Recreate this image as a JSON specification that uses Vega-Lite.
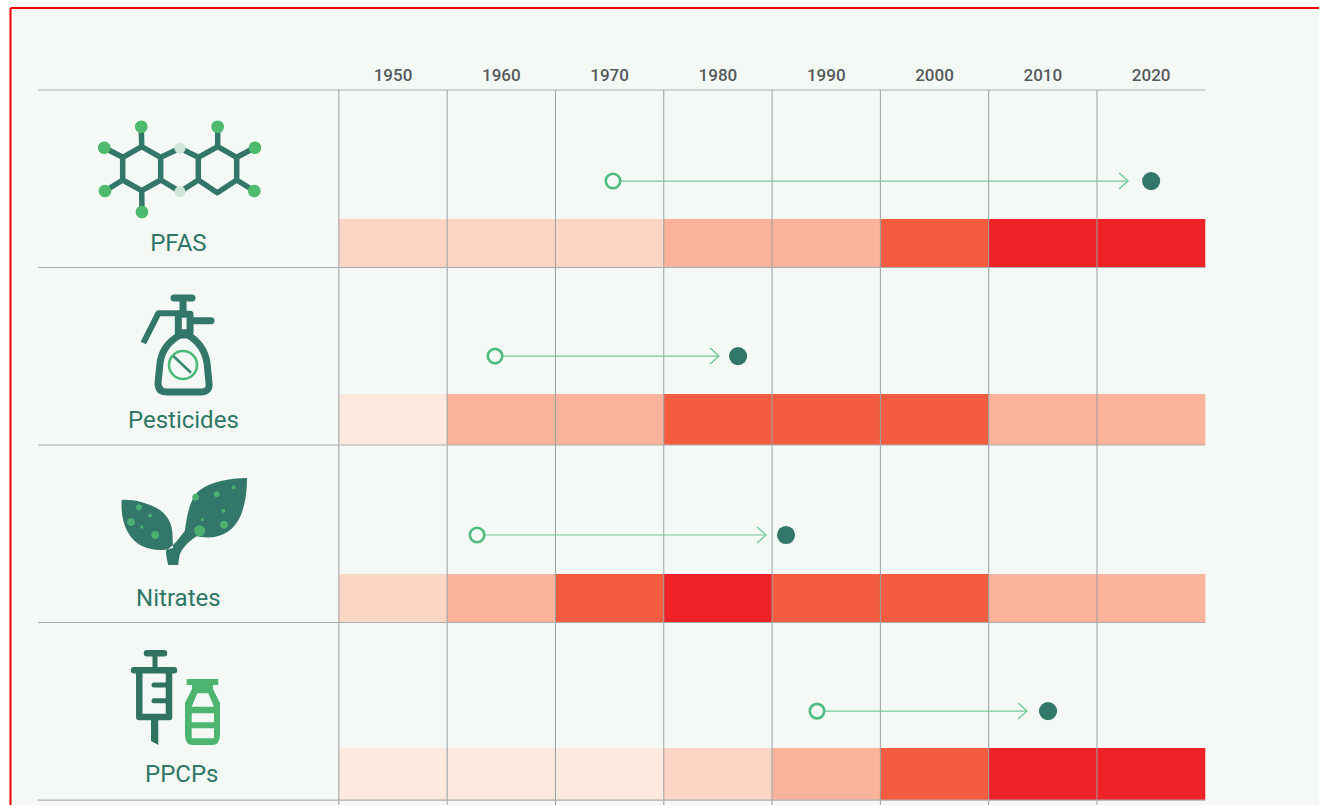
{
"$schema":"https://vega.github.io/schema/vega-lite/v6.json",
"width":1319,"height":805,"padding":0,"autosize":{"type":"none"},
"background":"#ffffff",
"config":{"view":{"stroke":null}},
"encoding":{
"x":{"field":"year","type":"quantitative","axis":null,"scale":{"domain":[1913.71,2035.5],"nice":false,"zero":false}},
"y":{"field":"row","type":"quantitative","axis":null,"scale":{"domain":[4.028,-0.507],"nice":false,"zero":false}}
},
"layer":[
{"data":{"values":[{"year":1914.68,"year2":2035.5,"row":-0.462,"row2":4.028}]},
 "mark":{"type":"rect","fill":"#f5f9f6"},
 "encoding":{"x2":{"field":"year2"},"y2":{"field":"row2"}}},
{"data":{"values":[{"year":1914.68,"year2":2035.5,"row":-0.462}]},
 "mark":{"type":"rule","color":"#f00000","strokeWidth":2},
 "encoding":{"x2":{"field":"year2"}}},
{"data":{"values":[{"year":1914.68,"row":-0.462,"row2":4.028}]},
 "mark":{"type":"rule","color":"#f00000","strokeWidth":2},
 "encoding":{"y2":{"field":"row2"}}},
{"data":{"values":[
{"name":"PFAS","decade":1950,"year":1945,"year2":1955,"row":0.727,"row2":1,"level":2},
{"name":"PFAS","decade":1960,"year":1955,"year2":1965,"row":0.727,"row2":1,"level":2},
{"name":"PFAS","decade":1970,"year":1965,"year2":1975,"row":0.727,"row2":1,"level":2},
{"name":"PFAS","decade":1980,"year":1975,"year2":1985,"row":0.727,"row2":1,"level":3},
{"name":"PFAS","decade":1990,"year":1985,"year2":1995,"row":0.727,"row2":1,"level":3},
{"name":"PFAS","decade":2000,"year":1995,"year2":2005,"row":0.727,"row2":1,"level":4},
{"name":"PFAS","decade":2010,"year":2005,"year2":2015,"row":0.727,"row2":1,"level":5},
{"name":"PFAS","decade":2020,"year":2015,"year2":2025,"row":0.727,"row2":1,"level":5},
{"name":"Pesticides","decade":1950,"year":1945,"year2":1955,"row":1.713,"row2":2,"level":1},
{"name":"Pesticides","decade":1960,"year":1955,"year2":1965,"row":1.713,"row2":2,"level":3},
{"name":"Pesticides","decade":1970,"year":1965,"year2":1975,"row":1.713,"row2":2,"level":3},
{"name":"Pesticides","decade":1980,"year":1975,"year2":1985,"row":1.713,"row2":2,"level":4},
{"name":"Pesticides","decade":1990,"year":1985,"year2":1995,"row":1.713,"row2":2,"level":4},
{"name":"Pesticides","decade":2000,"year":1995,"year2":2005,"row":1.713,"row2":2,"level":4},
{"name":"Pesticides","decade":2010,"year":2005,"year2":2015,"row":1.713,"row2":2,"level":3},
{"name":"Pesticides","decade":2020,"year":2015,"year2":2025,"row":1.713,"row2":2,"level":3},
{"name":"Nitrates","decade":1950,"year":1945,"year2":1955,"row":2.727,"row2":3,"level":2},
{"name":"Nitrates","decade":1960,"year":1955,"year2":1965,"row":2.727,"row2":3,"level":3},
{"name":"Nitrates","decade":1970,"year":1965,"year2":1975,"row":2.727,"row2":3,"level":4},
{"name":"Nitrates","decade":1980,"year":1975,"year2":1985,"row":2.727,"row2":3,"level":5},
{"name":"Nitrates","decade":1990,"year":1985,"year2":1995,"row":2.727,"row2":3,"level":4},
{"name":"Nitrates","decade":2000,"year":1995,"year2":2005,"row":2.727,"row2":3,"level":4},
{"name":"Nitrates","decade":2010,"year":2005,"year2":2015,"row":2.727,"row2":3,"level":3},
{"name":"Nitrates","decade":2020,"year":2015,"year2":2025,"row":2.727,"row2":3,"level":3},
{"name":"PPCPs","decade":1950,"year":1945,"year2":1955,"row":3.707,"row2":4,"level":1},
{"name":"PPCPs","decade":1960,"year":1955,"year2":1965,"row":3.707,"row2":4,"level":1},
{"name":"PPCPs","decade":1970,"year":1965,"year2":1975,"row":3.707,"row2":4,"level":1},
{"name":"PPCPs","decade":1980,"year":1975,"year2":1985,"row":3.707,"row2":4,"level":2},
{"name":"PPCPs","decade":1990,"year":1985,"year2":1995,"row":3.707,"row2":4,"level":3},
{"name":"PPCPs","decade":2000,"year":1995,"year2":2005,"row":3.707,"row2":4,"level":4},
{"name":"PPCPs","decade":2010,"year":2005,"year2":2015,"row":3.707,"row2":4,"level":5},
{"name":"PPCPs","decade":2020,"year":2015,"year2":2025,"row":3.707,"row2":4,"level":5}
]},
 "mark":{"type":"rect"},
 "encoding":{"x2":{"field":"year2"},"y2":{"field":"row2"},
 "color":{"field":"level","type":"ordinal","legend":null,"scale":{"domain":[1,2,3,4,5],"range":["#fde9dd","#fdd5c4","#fbb49b","#f45c40","#ef2227"]}}}},
{"data":{"values":[{"year":1945,"row":0,"row2":4.028},{"year":1955,"row":0,"row2":4.028},{"year":1965,"row":0,"row2":4.028},{"year":1975,"row":0,"row2":4.028},{"year":1985,"row":0,"row2":4.028},{"year":1995,"row":0,"row2":4.028},{"year":2005,"row":0,"row2":4.028},{"year":2015,"row":0,"row2":4.028}]},
 "mark":{"type":"rule","color":"#9a9fa2","strokeWidth":1},
 "encoding":{"y2":{"field":"row2"}}},
{"data":{"values":[{"year":1917.22,"year2":2025,"row":0},{"year":1917.22,"year2":2025,"row":1},{"year":1917.22,"year2":2025,"row":2},{"year":1917.22,"year2":2025,"row":3},{"year":1917.22,"year2":2025,"row":4}]},
 "mark":{"type":"rule","color":"#a9adb0","strokeWidth":1.2},
 "encoding":{"x2":{"field":"year2"}}},
{"data":{"values":[{"label":"1950","year":1950,"row":-0.05},{"label":"1960","year":1960,"row":-0.05},{"label":"1970","year":1970,"row":-0.05},{"label":"1980","year":1980,"row":-0.05},{"label":"1990","year":1990,"row":-0.05},{"label":"2000","year":2000,"row":-0.05},{"label":"2010","year":2010,"row":-0.05},{"label":"2020","year":2020,"row":-0.05}]},
 "mark":{"type":"text","font":"Roboto","fontSize":17,"fontWeight":500,"color":"#555a5c","align":"center","baseline":"alphabetic"},
 "encoding":{"text":{"field":"label"}}},
{"data":{"values":[{"name":"PFAS","year":1970.31,"year2":2017.87,"row":0.513},{"name":"Pesticides","year":1959.42,"year2":1980.1,"row":1.499},{"name":"Nitrates","year":1957.76,"year2":1984.44,"row":2.507},{"name":"PPCPs","year":1989.15,"year2":2008.54,"row":3.499}]},
 "mark":{"type":"rule","color":"#6fcb98","strokeWidth":1.2},
 "encoding":{"x2":{"field":"year2"}}},
{"data":{"values":[{"name":"PFAS","year":2017.87,"row":0.513},{"name":"Pesticides","year":1980.1,"row":1.499},{"name":"Nitrates","year":1984.44,"row":2.507},{"name":"PPCPs","year":2008.54,"row":3.499}]},
 "mark":{"type":"point","shape":"M -9 -8 L 0 0 L -9 8","size":4,"filled":false,"opacity":1,"stroke":"#6fcb98","strokeWidth":1.3}},
{"data":{"values":[{"name":"PFAS","year":1970.31,"row":0.513},{"name":"Pesticides","year":1959.42,"row":1.499},{"name":"Nitrates","year":1957.76,"row":2.507},{"name":"PPCPs","year":1989.15,"row":3.499}]},
 "mark":{"type":"point","shape":"circle","size":210,"filled":true,"opacity":1,"fill":"#f5f9f6","stroke":"#4fbb7f","strokeWidth":2.6}},
{"data":{"values":[{"name":"PFAS","year":2020,"row":0.513},{"name":"Pesticides","year":1981.86,"row":1.499},{"name":"Nitrates","year":1986.29,"row":2.507},{"name":"PPCPs","year":2010.48,"row":3.499}]},
 "mark":{"type":"point","shape":"circle","size":330,"filled":true,"opacity":1,"color":"#33776a"}},
{"data":{"values":[{"label":"PFAS","year":1930.18,"row":0.907},{"label":"Pesticides","year":1930.64,"row":1.906},{"label":"Nitrates","year":1930.18,"row":2.905},{"label":"PPCPs","year":1930.49,"row":3.9}]},
 "mark":{"type":"text","font":"Roboto","fontSize":24,"color":"#2f7766","align":"center","baseline":"alphabetic"},
 "encoding":{"text":{"field":"label"}}},

{"data":{"values":[{"icon":"PFAS","year":1930.33,"row":0.4507}]},
 "mark":{"type":"point","size":4,"filled":false,"opacity":1,"stroke":"#33776a","strokeWidth":5.5,"strokeJoin":"round",
 "shape":"M -38.3 -23.3 L -19.3 -12.7 L -19.3 10 L -38.3 20.7 L -57.3 10 L -57.3 -12.7 Z M 37.7 -23.3 L 56.7 -12.7 L 56.7 10 L 37.3 22.7 L 18.3 10 L 18.3 -12.7 Z M -19.3 -12.7 L 0 -21.7 L 18.3 -12.7 M -19.3 10 L 0 21.7 L 18.3 10 M -38.7 -43.3 L -38.3 -23.3 M -75.7 -22.3 L -57.3 -12.7 M -75 21 L -57.3 10 M -38 42 L -38.3 20.7 M 37.7 -43.3 L 37.7 -23.3 M 75 -22.3 L 56.7 -12.7 M 74.3 21 L 56.7 10"}},
{"data":{"values":[{"icon":"PFAS","year":1930.33,"row":0.4507}]},
 "mark":{"type":"point","size":4,"filled":true,"opacity":1,"fill":"#4dba6e",
 "shape":"M -45 -43.3 a 6.3 6.3 0 1 0 12.6 0 a 6.3 6.3 0 1 0 -12.6 0 Z M -82 -22.3 a 6.3 6.3 0 1 0 12.6 0 a 6.3 6.3 0 1 0 -12.6 0 Z M -81.3 21 a 6.3 6.3 0 1 0 12.6 0 a 6.3 6.3 0 1 0 -12.6 0 Z M -44.3 42 a 6.3 6.3 0 1 0 12.6 0 a 6.3 6.3 0 1 0 -12.6 0 Z M 31.4 -43.3 a 6.3 6.3 0 1 0 12.6 0 a 6.3 6.3 0 1 0 -12.6 0 Z M 68.7 -22.3 a 6.3 6.3 0 1 0 12.6 0 a 6.3 6.3 0 1 0 -12.6 0 Z M 68 21 a 6.3 6.3 0 1 0 12.6 0 a 6.3 6.3 0 1 0 -12.6 0 Z"}},
{"data":{"values":[{"icon":"PFAS","year":1930.33,"row":0.4507}]},
 "mark":{"type":"point","size":4,"filled":true,"opacity":1,"fill":"#cfe6d8",
 "shape":"M -5.5 -21.7 a 5.5 5.5 0 1 0 11 0 a 5.5 5.5 0 1 0 -11 0 Z M -5.5 21.7 a 5.5 5.5 0 1 0 11 0 a 5.5 5.5 0 1 0 -11 0 Z"}},

{"data":{"values":[{"icon":"Pesticides","year":1930.61,"row":1.4366}]},
 "mark":{"type":"point","size":4,"filled":false,"opacity":1,"stroke":"#33776a","strokeWidth":7,"strokeCap":"round","strokeJoin":"round",
 "shape":"M -9 -47 L 9 -47 M 0 -47 L 0 -33 M -4.7 -30.7 L 7 -30.7 L 7 -12.3 L -4.7 -12.3 Z M 10 -24.3 L 28 -24.3 M -3 -10 C -12 -5 -21 3 -23 18 L -25 38 Q -25 47 -16 47 L 18 47 Q 27 47 26 38 L 24 18 C 22 5 15 -4 5 -10 Z"}},
{"data":{"values":[{"icon":"Pesticides","year":1930.61,"row":1.4366}]},
 "mark":{"type":"point","size":4,"filled":false,"opacity":1,"stroke":"#33776a","strokeWidth":6,"strokeJoin":"round",
 "shape":"M -3 -31.7 L -24.7 -31.7 L -39.7 -2"}},
{"data":{"values":[{"icon":"Pesticides","year":1930.61,"row":1.4366}]},
 "mark":{"type":"point","size":4,"filled":false,"opacity":1,"stroke":"#4dba7a","strokeWidth":2.6,
 "shape":"M -14 20 a 14 14 0 1 0 28 0 a 14 14 0 1 0 -28 0 Z"}},
{"data":{"values":[{"icon":"Pesticides","year":1930.61,"row":1.4366}]},
 "mark":{"type":"point","size":4,"filled":false,"opacity":1,"stroke":"#3a8a72","strokeWidth":2.6,
 "shape":"M -9.7 11 L 8 27.7"}},

{"data":{"values":[{"icon":"Nitrates","year":1930.33,"row":2.4225}]},
 "mark":{"type":"point","size":4,"filled":true,"opacity":1,"fill":"#33776a",
 "shape":"M -58.3 -20 C -50 -21 -32 -18 -20 -10 C -12 -4 -8 4 -7.5 14 L -7 28 C -15 31 -28 31 -38 26 C -50 20 -60 5 -58.3 -20 Z M 67 -42 C 50 -42 30 -38 20 -30 C 10 -22 7 -5 5 10 C 8 15 20 18 33 17.3 C 48 15 58 5 62 -8 C 66 -20 67 -30 67 -42 Z M 6 9 C 2 15 -3 21 -7 25 C -10 28 -13 29 -14 31 C -14 36 -12.5 42 -11.7 45 L -1.7 45 C -1 39 -1 35 2 30 C 6 24 11 20 17 16 Z"}},
{"data":{"values":[{"icon":"Nitrates","year":1930.33,"row":2.4225}]},
 "mark":{"type":"point","size":4,"filled":true,"opacity":1,"fill":"#4bb070",
 "shape":"M -44 -12.7 a 3 3 0 1 0 6 0 a 3 3 0 1 0 -6 0 Z M -53 2 a 4 4 0 1 0 8 0 a 4 4 0 1 0 -8 0 Z M -32 -4.3 a 2 2 0 1 0 4 0 a 2 2 0 1 0 -4 0 Z M -40 7 a 1.7 1.7 0 1 0 3.4 0 a 1.7 1.7 0 1 0 -3.4 0 Z M -28.7 15 a 4 4 0 1 0 8 0 a 4 4 0 1 0 -8 0 Z M 12.2 -22.7 a 3.5 3.5 0 1 0 7 0 a 3.5 3.5 0 1 0 -7 0 Z M 33.7 -25.7 a 3 3 0 1 0 6 0 a 3 3 0 1 0 -6 0 Z M 51.7 -32.7 a 2 2 0 1 0 4 0 a 2 2 0 1 0 -4 0 Z M 41.3 -9.3 a 2 2 0 1 0 4 0 a 2 2 0 1 0 -4 0 Z M 20.7 -0.3 a 1.6 1.6 0 1 0 3.2 0 a 1.6 1.6 0 1 0 -3.2 0 Z M 40 4.7 a 4 4 0 1 0 8 0 a 4 4 0 1 0 -8 0 Z M 14.2 10.7 a 5.5 5.5 0 1 0 11 0 a 5.5 5.5 0 1 0 -11 0 Z"}},

{"data":{"values":[{"icon":"PPCPs","year":1930.33,"row":3.4085}]},
 "mark":{"type":"point","size":4,"filled":false,"opacity":1,"stroke":"#2f7360","strokeWidth":6.5,"strokeCap":"round","strokeJoin":"round",
 "shape":"M -33 -41.7 L -16 -41.7 M -46 -24.7 L -6 -24.7 M -40.7 -24.7 L -40.7 22 L -11 22 L -11 -24.7"}},
{"data":{"values":[{"icon":"PPCPs","year":1930.33,"row":3.4085}]},
 "mark":{"type":"point","size":4,"filled":false,"opacity":1,"stroke":"#2f7360","strokeWidth":5,"strokeCap":"round",
 "shape":"M -25 -41.7 L -25 -25 M -26 -10 L -11 -10 M -26 5.7 L -11 5.7"}},
{"data":{"values":[{"icon":"PPCPs","year":1930.33,"row":3.4085}]},
 "mark":{"type":"point","size":4,"filled":true,"opacity":1,"fill":"#2f7360",
 "shape":"M -29 24 L -21.7 24 L -21.7 50 L -29 46 Z"}},
{"data":{"values":[{"icon":"PPCPs","year":1930.33,"row":3.4085}]},
 "mark":{"type":"point","size":4,"filled":true,"opacity":1,"fill":"#4cb56f",
 "shape":"M 6.7 -16 L 38.3 -16 L 38.3 -10 L 33 -10 L 33 -6 L 40 8 L 40 40 Q 40 50 32 50 L 13 50 Q 5 50 5 40 L 5 8 L 12 -6 L 12 -10 L 6.7 -10 Z M 17.3 -1.7 L 11.7 11.7 L 34 11.7 L 28.3 -1.7 Z M 11.7 18.3 L 11.7 27.3 L 34 27.3 L 34 18.3 Z M 11.7 33.3 L 11.7 43.3 L 34 43.3 L 34 33.3 Z"}}
]
}
